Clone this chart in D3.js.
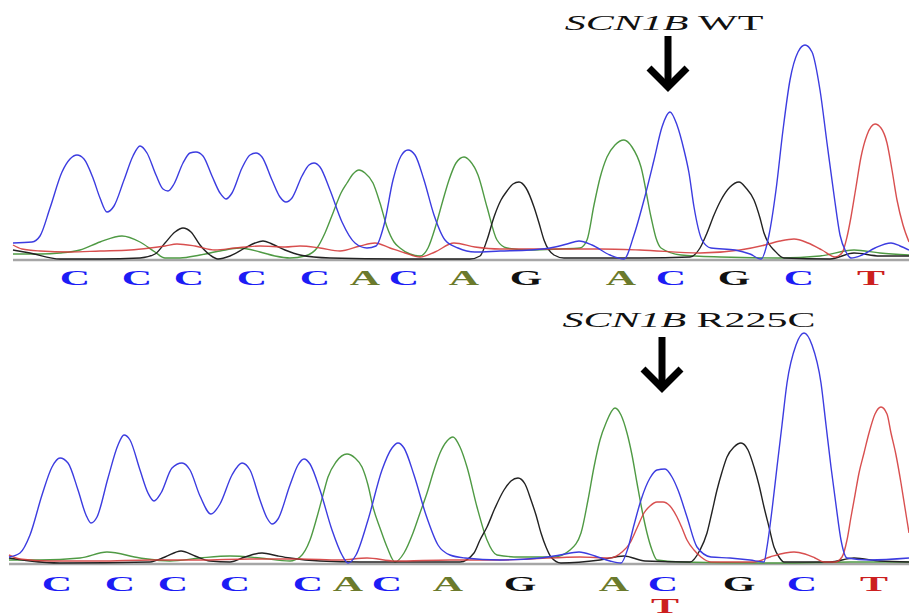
<!DOCTYPE html>
<html>
<head>
<meta charset="utf-8">
<script src="https://cdn.jsdelivr.net/npm/d3@7"></script>
<style>
  body { margin: 0; background: #fff; }
</style>
</head>
<body>
<script>
// trace points: [scan, intensity]
var wtBlue = [[4,80],[23,85],[31,115],[41,255],[53,435],[61,500],[68,520],[75,500],[84,405],[91,305],[98,235],[105,265],[115,395],[124,515],[131,565],[138,530],[147,420],[154,350],[159,340],[165,375],[174,480],[181,530],[187,535],[194,515],[203,415],[211,330],[217,300],[223,330],[233,455],[241,520],[247,530],[253,510],[263,395],[271,310],[277,285],[283,305],[293,415],[300,470],[305,480],[311,460],[321,345],[333,185],[346,80],[358,55],[367,65],[375,170],[384,395],[392,515],[399,545],[406,520],[415,395],[425,220],[436,95],[449,55],[466,35],[491,40],[521,45],[541,55],[558,75],[570,90],[583,70],[601,20],[615,0],[625,120],[635,295],[645,495],[653,660],[661,735],[668,670],[675,545],[680,430],[685,260],[693,95],[702,55],[726,45],[741,25],[752,0],[760,120],[767,345],[774,645],[781,895],[789,1035],[796,1070],[803,1035],[811,845],[818,580],[825,320],[831,120],[837,35],[842,5],[853,20],[866,55],[882,80],[891,65],[900,45]];
var wtGreen = [[4,25],[31,25],[51,30],[71,45],[91,85],[113,115],[131,85],[146,35],[156,5],[171,5],[191,20],[211,40],[231,55],[251,35],[266,15],[281,5],[296,15],[308,55],[316,130],[324,230],[332,330],[338,380],[344,425],[350,445],[356,430],[364,380],[371,280],[378,160],[385,85],[391,55],[401,25],[411,15],[419,55],[427,170],[434,295],[440,395],[447,480],[455,510],[461,490],[469,420],[478,260],[488,95],[498,55],[521,45],[551,50],[571,55],[578,95],[585,270],[591,405],[598,510],[606,570],[615,595],[623,560],[632,460],[642,210],[647,105],[652,55],[672,20],[711,10],[771,5],[811,15],[845,45],[871,30],[900,20]];
var wtBlack = [[4,45],[21,30],[51,0],[91,0],[131,5],[146,25],[156,80],[166,135],[174,155],[182,135],[191,70],[201,20],[209,0],[221,15],[236,55],[246,80],[254,90],[263,75],[276,45],[291,20],[321,5],[391,0],[461,0],[471,15],[478,95],[485,210],[492,295],[498,340],[504,375],[510,385],[517,355],[525,260],[530,180],[535,95],[545,20],[555,5],[631,5],[681,10],[691,55],[698,130],[705,220],[712,295],[721,360],[730,385],[737,355],[745,295],[751,205],[755,130],[760,75],[765,45],[775,5],[821,0],[845,30],[871,15],[900,15]];
var wtRed = [[4,70],[13,50],[31,40],[61,35],[91,40],[121,45],[141,55],[156,65],[168,75],[186,65],[206,45],[226,55],[251,65],[276,60],[291,65],[311,55],[331,40],[351,65],[366,80],[381,55],[396,30],[411,10],[426,35],[445,80],[466,60],[491,50],[541,50],[591,50],[631,45],[691,30],[731,45],[756,70],[771,90],[785,100],[799,80],[813,45],[826,10],[833,30],[838,110],[842,210],[847,360],[852,510],[858,620],[866,675],[872,655],[878,580],[883,445],[888,295],[894,170],[900,85]];

var mutBlue = [[0,30],[11,50],[21,140],[33,340],[43,480],[51,525],[59,500],[69,365],[77,240],[82,200],[88,230],[99,425],[109,590],[115,640],[121,615],[131,465],[139,350],[145,310],[152,350],[163,475],[173,500],[181,465],[191,335],[202,245],[211,295],[223,440],[233,500],[241,465],[251,315],[258,225],[263,195],[269,220],[281,390],[289,490],[295,520],[301,495],[311,365],[323,165],[333,40],[339,0],[347,40],[359,215],[373,465],[383,575],[389,600],[395,575],[405,440],[417,240],[429,90],[441,40],[456,25],[491,15],[531,25],[551,40],[570,55],[586,35],[601,10],[612,0],[619,75],[625,190],[632,315],[641,425],[648,465],[656,470],[663,430],[669,365],[678,230],[688,80],[702,30],[721,25],[741,15],[755,5],[758,80],[763,265],[768,480],[773,690],[778,900],[787,1090],[795,1150],[803,1090],[812,900],[817,690],[822,480],[827,290],[832,115],[838,25],[861,15],[900,25]];
var mutGreen = [[0,15],[31,15],[71,25],[98,55],[131,25],[161,10],[191,25],[221,35],[251,25],[281,10],[291,30],[301,115],[308,230],[314,340],[319,430],[327,505],[338,545],[346,525],[353,480],[359,390],[364,280],[371,175],[378,80],[386,5],[395,50],[404,150],[411,250],[418,350],[425,465],[431,550],[438,610],[444,630],[451,580],[458,480],[468,280],[478,115],[488,40],[511,30],[545,30],[561,65],[572,150],[579,315],[585,480],[591,615],[597,700],[606,775],[612,740],[618,650],[623,540],[628,400],[633,265],[638,150],[643,65],[648,15],[671,5],[771,0],[841,5],[878,5],[900,5]];
var mutBlack = [[0,25],[21,10],[51,0],[141,5],[156,30],[172,60],[186,35],[201,10],[221,5],[236,30],[253,50],[269,35],[281,25],[311,10],[351,5],[451,5],[465,50],[471,115],[478,180],[486,275],[495,365],[502,410],[509,425],[516,395],[522,315],[527,240],[532,150],[537,80],[542,30],[552,0],[591,15],[615,35],[636,10],[681,5],[691,65],[698,150],[703,255],[708,365],[713,455],[718,530],[725,580],[732,600],[739,565],[745,480],[750,390],[755,280],[760,180],[765,80],[770,30],[775,5],[821,5],[845,25],[871,10],[900,5]];
var mutRed = [[0,40],[11,20],[41,10],[91,10],[141,15],[191,15],[241,20],[291,20],[331,15],[358,25],[386,10],[441,15],[491,15],[521,20],[571,30],[601,25],[613,55],[621,100],[628,175],[635,250],[641,285],[648,305],[654,305],[661,285],[668,230],[673,175],[678,115],[685,65],[692,30],[702,5],[731,5],[745,5],[761,30],[776,50],[785,55],[796,45],[806,25],[815,5],[826,5],[833,30],[838,115],[842,230],[846,340],[850,450],[855,550],[860,650],[866,745],[872,780],[878,745],[882,650],[887,540],[892,400],[896,275],[900,150]];

// base calls
var wtBases = ["C","C","C","C","C","A","C","A","G","A","C","G","C","T"];
var wtBasePos = [66,128,180,243,306,356,395,455,517,612,662,725,790,862];
var mutBases = ["C","C","C","C","C","A","C","A","G","A","C","G","C","T"];
var mutBasePos = [48,111,164,226,299,339,378,439,511,605,654,730,793,865];
var mutSecond = ["T"];
var mutSecondPos = [656];

var titles = [["SCN1B", " WT"], ["SCN1B", " R225C"]];
var arrowPos = [659, 653];

var svgWidth = 909;
var svgHeight = 615;

var svg = d3.select("body")
  .append("svg")
  .attr("width", svgWidth)
  .attr("height", svgHeight);

var channelColor = { C: "#3c3ce0", A: "#4f9a44", G: "#222222", T: "#d43c3c" };
var baseColor = { C: "#1c1cf5", A: "#6b7a2c", G: "#111111", T: "#cc1f1f" };

// panels
var panels = [
  { traces: [[wtGreen, "A"], [wtBlack, "G"], [wtRed, "T"], [wtBlue, "C"]],
    x0: 13, base: 259, top: 39, labelY: 285,
    bases: wtBases, pos: wtBasePos, title: titles[0], titleX: 664, titleY: 30,
    arrow: arrowPos[0], arrowTop: 36, arrowBottom: 87 },
  { traces: [[mutGreen, "A"], [mutBlack, "G"], [mutRed, "T"], [mutBlue, "C"]],
    x0: 9, base: 563, top: 343, labelY: 591,
    bases: mutBases, pos: mutBasePos, title: titles[1], titleX: 689, titleY: 327,
    arrow: arrowPos[1], arrowTop: 337, arrowBottom: 388 }
];

var xScale = d3.scaleLinear().domain([0, 900]).range([9, 909]);

panels.forEach(function(p) {
  var yScale = d3.scaleLinear().domain([0, 1100]).range([p.base, p.top]);
  var g = svg.append("g");

  // baseline
  g.append("line")
    .attr("x1", p.x0).attr("x2", svgWidth)
    .attr("y1", p.base + 1).attr("y2", p.base + 1)
    .attr("stroke", "#a6a6a6")
    .attr("stroke-width", 2.5);

  var line = d3.line()
    .x(d => xScale(d[0]))
    .y(d => yScale(d[1]))
    .curve(d3.curveMonotoneX);

  p.traces.forEach(function(t) {
    g.append("path")
      .attr("d", line(t[0]))
      .attr("fill", "none")
      .attr("stroke", channelColor[t[1]])
      .attr("stroke-width", 1.4)
      .attr("stroke-opacity", t[1] == "T" ? 0.9 : 1);
  });

  // base letters, stretched wide like the original
  g.selectAll("text.base")
    .data(p.bases)
    .enter()
    .append("text")
    .attr("class", "base")
    .attr("transform", (d, i) => `translate(${xScale(p.pos[i])}, ${p.labelY}) scale(2,1)`)
    .attr("text-anchor", "middle")
    .attr("font-family", "Liberation Serif, serif")
    .attr("font-weight", "bold")
    .attr("font-size", "21px")
    .attr("fill", d => baseColor[d])
    .text(d => d);

  // title
  var title = g.append("text")
    .attr("transform", `translate(${p.titleX}, ${p.titleY}) scale(2,1)`)
    .attr("text-anchor", "middle")
    .attr("font-family", "Liberation Serif, serif")
    .attr("font-size", "21px")
    .attr("fill", "#111");
  title.append("tspan").attr("font-style", "italic").text(p.title[0]);
  title.append("tspan").text(p.title[1]);

  // arrow
  var ax = xScale(p.arrow);
  g.append("line")
    .attr("x1", ax).attr("x2", ax)
    .attr("y1", p.arrowTop).attr("y2", p.arrowBottom - 4)
    .attr("stroke", "#000")
    .attr("stroke-width", 7);
  g.append("path")
    .attr("d", `M${ax - 19},${p.arrowBottom - 19} L${ax},${p.arrowBottom} L${ax + 19},${p.arrowBottom - 19}`)
    .attr("fill", "none")
    .attr("stroke", "#000")
    .attr("stroke-width", 7);
});

// secondary call under the mutant position
svg.selectAll("text.second")
  .data(mutSecond)
  .enter()
  .append("text")
  .attr("class", "second")
  .attr("transform", (d, i) => `translate(${xScale(mutSecondPos[i])}, 613) scale(2,1)`)
  .attr("text-anchor", "middle")
  .attr("font-family", "Liberation Serif, serif")
  .attr("font-weight", "bold")
  .attr("font-size", "21px")
  .attr("fill", d => baseColor[d])
  .text(d => d);
</script>
</body>
</html>
